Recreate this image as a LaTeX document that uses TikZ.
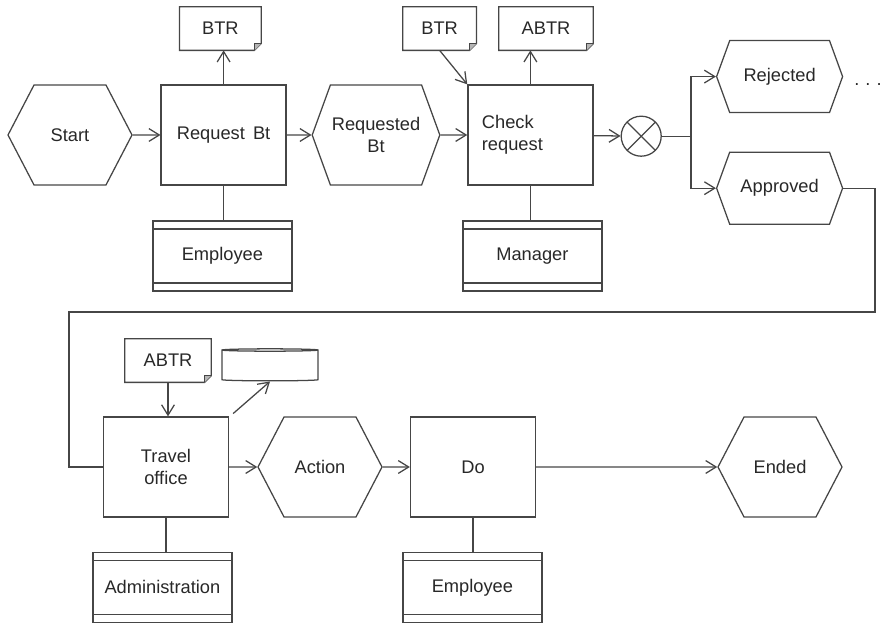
\documentclass[tikz,border=0pt]{standalone}
\usepackage{fontspec}
\setmainfont{Liberation Sans}
\usetikzlibrary{arrows.meta,positioning,shapes.symbols,shapes.geometric}
\definecolor{epcline}{RGB}{70,70,70}
\definecolor{epctext}{RGB}{40,40,40}

\begin{document}
\begin{tikzpicture}[
    every node/.style={font=\fontsize{13}{15.5}\selectfont,text=epctext},
    line/.style={draw=epcline,line width=0.9pt},
    flow/.style={line,-{Straight Barb[length=2.6mm,width=3.2mm]}},
    event/.style={line,shape=signal,signal to=east and west,
      signal pointer angle=125,minimum width=3.1cm,minimum height=2.5cm,
      inner sep=1pt,align=center},
    flatevent/.style={event,signal pointer angle=140},
    func/.style={line,rectangle,minimum width=3.125cm,minimum height=2.5cm,
      align=center},
    doc/.style={rectangle,minimum width=2cm,minimum height=1.075cm},
    role/.style={line,rectangle,minimum width=3.475cm,minimum height=1.75cm,
      path picture={
        \draw[epcline,line width=0.9pt]
          ([yshift=-0.2cm]path picture bounding box.north west) --
          ([yshift=-0.2cm]path picture bounding box.north east);
        \draw[epcline,line width=0.9pt]
          ([yshift=0.2cm]path picture bounding box.south west) --
          ([yshift=0.2cm]path picture bounding box.south east);}},
    xorgate/.style={line,circle,minimum size=1cm,inner sep=0pt,
      path picture={
        \draw[epcline,line width=0.9pt]
          (path picture bounding box.north west) --
          (path picture bounding box.south east);
        \draw[epcline,line width=0.9pt]
          (path picture bounding box.south west) --
          (path picture bounding box.north east);}},
    store/.style={line,cylinder,shape border rotate=90,aspect=0.25,
      minimum width=2.4cm,minimum height=0.8cm}
  ]
    \useasboundingbox (0,0) rectangle (22.175,15.625);

    % Top row
    \node[event] (start) at (1.75,12.25) {Start};
    \node[func] (reqbt) at (5.59,12.25) {Request\, Bt};
    \node[doc,minimum width=2.03cm] (btra) at (5.51,14.91) {BTR};
    \node[role] (empa) at (5.56,9.225) {Employee};
    \node[flatevent,minimum width=3.05cm] (reqd) at (9.4,12.25) {Requested\\Bt};
    \node[func,align=left,text width=2.425cm,inner xsep=0.35cm]
      (check) at (13.26,12.25) {Check\\request};
    \node[doc,minimum width=1.83cm] (btrb) at (10.99,14.91) {BTR};
    \node[doc,minimum width=2.35cm] (abtra) at (13.65,14.91) {ABTR};
    \node[role] (mgr) at (13.31,9.225) {Manager};
    \node[xorgate] (xor) at (16.03,12.22) {};
    \coordinate (split) at (17.275,12.22);
    \node[flatevent,minimum width=3.15cm,minimum height=1.8cm]
      (rej) at (19.49,13.71) {Rejected};
    \node[flatevent,minimum width=3.15cm,minimum height=1.8cm]
      (app) at (19.49,10.92) {Approved};
    \node[anchor=base] (more) at (21.7,13.475) {.\,\,.\,\,.};

    % Bottom row
    \node[func] (travel) at (4.15,3.95) {Travel\\office};
    \node[doc,minimum width=2.15cm] (abtrb) at (4.2,6.61) {ABTR};
    \node[store] (db) at (6.75,6.475) {};
    \node[role] (admin) at (4.06,0.94) {Administration};
    \node[event] (action) at (8.0,3.95) {Action};
    \node[func] (do) at (11.825,3.95) {Do};
    \node[role] (empb) at (11.81,0.94) {Employee};
    \node[event] (ended) at (19.5,3.95) {Ended};

    % Documents with folded corner
    \foreach \d in {btra,btrb,abtra,abtrb}{
      \draw[line] (\d.north west) -- (\d.north east)
        -- ([yshift=0.17cm]\d.south east) -- ([xshift=-0.17cm]\d.south east)
        -- (\d.south west) -- cycle;
      \draw[line,fill=epcline!40] ([yshift=0.17cm]\d.south east)
        -- ([shift={(-0.17cm,0.17cm)}]\d.south east)
        -- ([xshift=-0.17cm]\d.south east);
    }

    % Control flow
    \draw[flow] (start) -- (reqbt);
    \draw[flow] (reqbt) -- (reqd);
    \draw[flow] (reqd) -- (check);
    \draw[flow] (check) -- (xor);
    \draw[line] (xor) -- (split);
    \draw[flow] (split) |- (rej.west);
    \draw[flow] (split) |- (app.west);
    \coordinate (loopr) at (21.875,7.825);
    \coordinate (loopl) at (1.725,7.825);
    \draw[line] (app.east) -| (loopr) -- (loopl) |- (travel.west);
    \draw[flow] (travel) -- (action);
    \draw[flow] (action) -- (do);
    \draw[flow] (do) -- (ended);

    % Documents, data and roles
    \draw[flow] (reqbt.north) -- (reqbt.north |- btra.south);
    \draw[flow] (btrb.south) -- (check.north west);
    \draw[flow] (check.north) -- (check.north |- abtra.south);
    \draw[flow] (abtrb.south) -- (abtrb.south |- travel.north);
    \draw[flow] ([shift={(0.1cm,0.07cm)}]travel.north east) -- (db.south);
    \draw[line] (reqbt.south) -- (reqbt.south |- empa.north);
    \draw[line] (check.south) -- (check.south |- mgr.north);
    \draw[line] (travel.south) -- (travel.south |- admin.north);
    \draw[line] (do.south) -- (do.south |- empb.north);
  \end{tikzpicture}
\end{document}
